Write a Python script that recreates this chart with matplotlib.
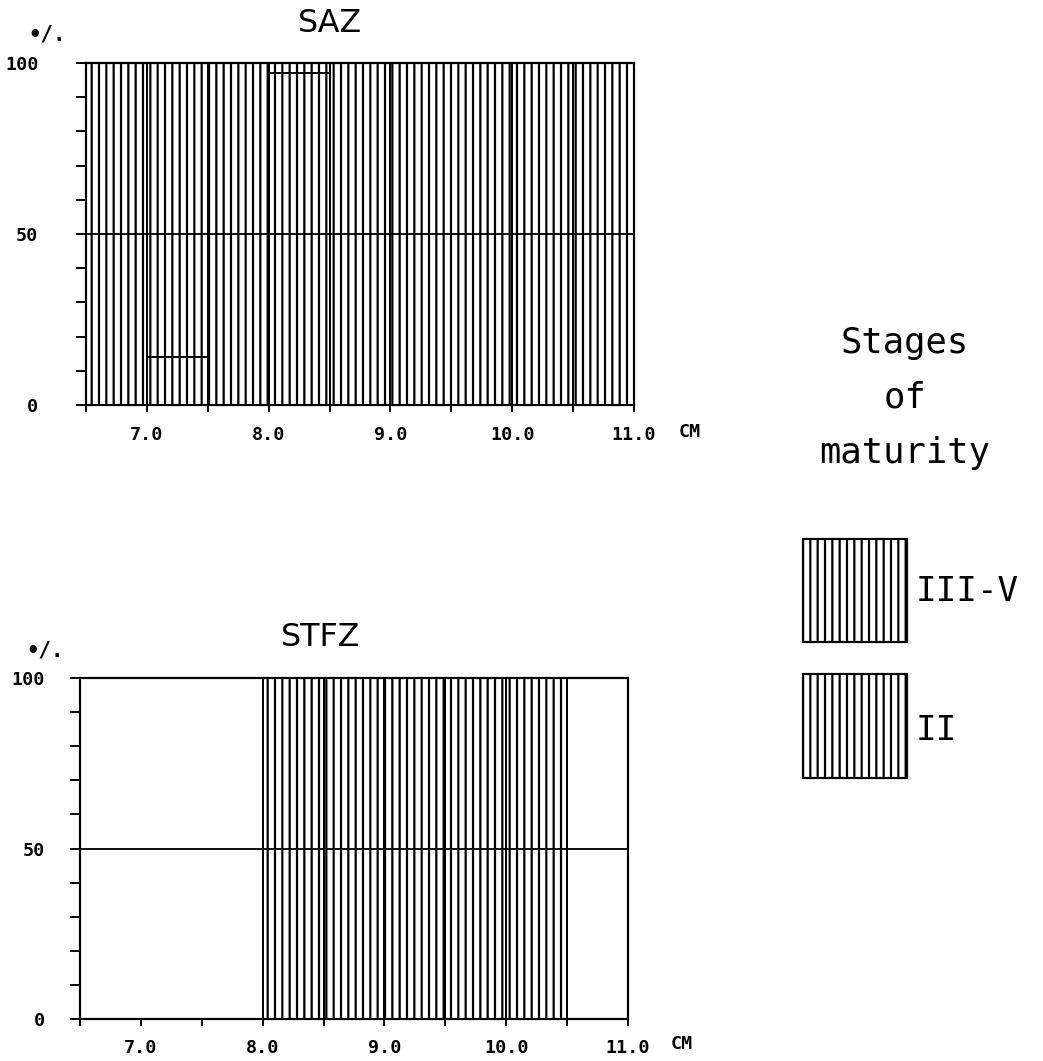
import matplotlib
matplotlib.use("Agg")
import matplotlib.pyplot as plt
from matplotlib.patches import Rectangle
import numpy as np

# length classes (cm, left edge of each 0.5 cm class)
bin_left = [6.5, 7.0, 7.5, 8.0, 8.5, 9.0, 9.5, 10.0, 10.5]
bin_width = 0.5

# percentage of each maturity stage per length class
saz_iii_v = [100, 14, 100, 97, 100, 100, 100, 100, 100]
saz_ii = [0, 86, 0, 3, 0, 0, 0, 0, 0]
stfz_iii_v = [0, 0, 0, 100, 100, 100, 100, 100, 0]
stfz_ii = [0, 0, 0, 0, 0, 0, 0, 0, 0]

zones = ["SAZ", "STFZ"]
stages = ["III-V", "II"]
xtick_labels = ["7.0", "8.0", "9.0", "10.0", "11.0"]

W, H, DPI = 1043, 1061, 88
matplotlib.rc('font', family='DejaVu Sans Mono')
matplotlib.rc('hatch', linewidth=1.8, color='black')

fig = plt.figure(figsize=(W / DPI, H / DPI), dpi=DPI)


def fx(x):
    return x / W


def fy(y):
    return 1 - y / H


def draw_panel(rect, title, lower, upper, ylab_pad, xlab_pad, pct_xy, title_xy, cm_xy):
    ax = fig.add_axes(rect)
    ax.bar(bin_left, lower, width=bin_width, align='edge', color='white',
           edgecolor='black', linewidth=1.6, hatch='||')
    ax.bar(bin_left, upper, width=bin_width, bottom=lower, align='edge', color='white',
           edgecolor='black', linewidth=1.6, hatch='||')
    ax.axhline(50, color='black', linewidth=1.5)
    ax.set_xlim(6.5, 11.0)
    ax.set_ylim(0, 100)
    for s in ax.spines.values():
        s.set_linewidth(1.8)

    xt = np.arange(6.5, 11.01, 0.5)
    ax.set_xticks(xt)
    ax.set_xticklabels(["" if v % 1 else xtick_labels[int(v) - 7] if v >= 7 else "" for v in xt],
                       fontsize=15, fontweight='bold')
    ax.set_yticks(np.arange(0, 101, 10))
    ax.set_yticklabels(["0" if v == 0 else "50" if v == 50 else "100" if v == 100 else ""
                        for v in range(0, 101, 10)], fontsize=15, fontweight='bold')
    ax.tick_params(axis='x', direction='out', length=6, width=1.6, pad=xlab_pad)
    ax.tick_params(axis='y', direction='out', length=8, width=1.6, pad=ylab_pad)

    fig.text(fx(pct_xy[0]), fy(pct_xy[1]), "•/.", ha='center', va='center',
             fontsize=17, fontweight='bold')
    fig.text(fx(title_xy[0]), fy(title_xy[1]), title, ha='center', va='center',
             fontsize=26, family='DejaVu Sans')
    fig.text(fx(cm_xy[0]), fy(cm_xy[1]), "CM", ha='center', va='center',
             fontsize=15, fontweight='bold')
    return ax


draw_panel([fx(86), fy(405), fx(634 - 86), (405 - 63) / H], zones[0],
           saz_iii_v, saz_ii, 31, 11, (47, 35), (330, 24), (690, 432))
draw_panel([fx(80), fy(1019), fx(628 - 80), (1019 - 678) / H], zones[1],
           stfz_iii_v, stfz_ii, 21, 10, (45, 650), (321, 637), (682, 1044))

# legend drawn as hatched boxes on the right
for txt, base in zip(["Stages", "of", "maturity"], [353, 408, 463]):
    fig.text(fx(905), fy(base), txt, ha='center', va='baseline', fontsize=29)

for (top, bottom), name, base in zip([(539, 642), (674, 778)], stages, [601, 740]):
    fig.patches.append(Rectangle((fx(803), fy(bottom)), fx(104), (bottom - top) / H,
                                 transform=fig.transFigure, facecolor='white',
                                 edgecolor='black', linewidth=1.8, hatch='||'))
    fig.text(fx(916), fy(base), name, ha='left', va='baseline', fontsize=28)

plt.savefig('out.png', dpi=DPI)
